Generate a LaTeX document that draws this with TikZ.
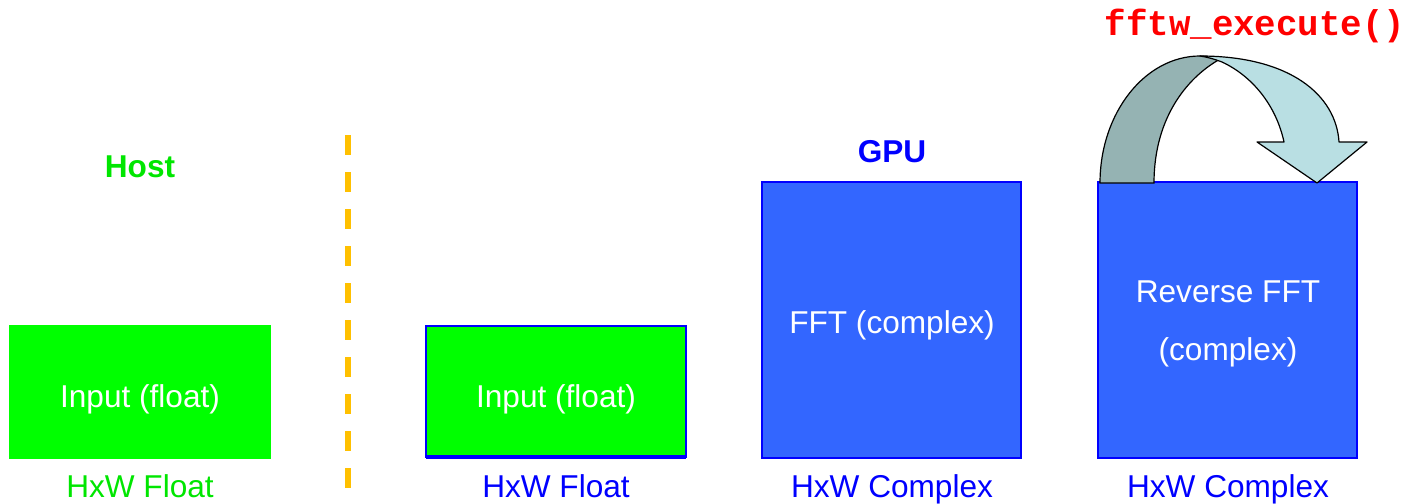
\documentclass[tikz,border=0pt]{standalone}
\usepackage{fontspec}
\setmainfont{Liberation Sans}
\newfontfamily\codefont{Liberation Mono}
\definecolor{boxgreen}{HTML}{00FF00}
\definecolor{txtgreen}{HTML}{00E600}
\definecolor{boxblue}{HTML}{3366FF}
\definecolor{edgeblue}{HTML}{0000FF}
\definecolor{dashorange}{HTML}{FFC000}
\definecolor{arrowdark}{HTML}{95B3B3}
\definecolor{arrowlight}{HTML}{B9DFE3}
\begin{document}
\begin{tikzpicture}[x=0.5pt,y=-0.5pt,
  lbl/.style={font=\fontsize{15.8}{19}\selectfont, anchor=base, inner sep=0pt},
  hdr/.style={font=\fontsize{15.8}{19}\selectfont\bfseries, anchor=base, inner sep=0pt},
  gbox/.style={fill=boxgreen},
  bbox/.style={fill=boxblue, draw=edgeblue, line width=1pt}]
\useasboundingbox (0,0) rectangle (1416,503);
% host
\fill[gbox] (9,325) rectangle (271,459);
\node[lbl, text=white] (hin) at (140,407) {Input (float)};
\node[lbl, text=txtgreen] (hfl) at (140,497) {HxW Float};
\node[hdr, text=txtgreen] (host) at (140,177) {Host};
% divider
\coordinate (dtop) at (348,135);
\coordinate (dbot) at (348,495);
\draw[dashorange, line width=3pt, dash pattern=on 10pt off 8.5pt] (dtop) -- (dbot);
% gpu input
\fill[gbox, draw=edgeblue, line width=1pt] (426,326) rectangle (686,457);
\draw[edgeblue, line width=2pt] (426,457) -- (686,457);
\node[lbl, text=white] (gin) at (556,407) {Input (float)};
\node[lbl, text=edgeblue] (gfl) at (556,497) {HxW Float};
% fft
\draw[bbox] (762,182) rectangle (1021,458);
\node[lbl, text=white] (fft) at (892,333) {FFT (complex)};
\node[lbl, text=edgeblue] (fftc) at (892,497) {HxW Complex};
\node[hdr, text=edgeblue] (gpu) at (892,162) {GPU};
% reverse
\draw[bbox] (1098,182) rectangle (1357,458);
\node[lbl, text=white] (rev1) at (1228,302) {Reverse FFT};
\node[lbl, text=white] (rev2) at (1228,360) {(complex)};
\node[lbl, text=edgeblue] (revc) at (1228,497) {HxW Complex};
% curved arrow
\filldraw[fill=arrowdark, draw=black, line width=0.6pt]
  (1100,183) .. controls (1100,113) and (1145,56) .. (1200,56)
  -- (1222,58)
  .. controls (1190,75) and (1154,115) .. (1154,183) -- cycle;
\filldraw[fill=arrowlight, draw=black, line width=0.6pt, line join=round]
  (1200,56) .. controls (1290,56) and (1336,95) .. (1339,142)
  -- (1367,142) -- (1317,183) -- (1257,142) -- (1284,142)
  .. controls (1276,105) and (1252,76) .. (1222,62)
  .. controls (1214,59) and (1207,57) .. (1200,56) -- cycle;
\node[font=\codefont\bfseries\fontsize{17.9}{20}\selectfont, text=red, anchor=base, inner sep=0pt] (exec) at (1255,35) {fftw\_execute()};
\end{tikzpicture}
\end{document}
